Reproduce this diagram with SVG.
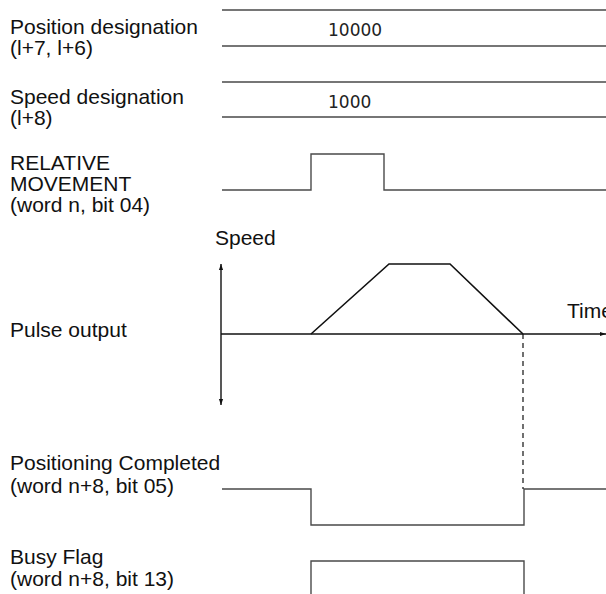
<svg xmlns="http://www.w3.org/2000/svg" width="606" height="594" viewBox="0 0 606 594">
<style>
.lbl{font-family:"Liberation Sans",Arial,sans-serif;font-size:21px;fill:#111}
.val{font-family:"DejaVu Sans",sans-serif;font-size:17px;fill:#222}
.sig{fill:none;stroke:#4a4a4a;stroke-width:1.4}
.ax{fill:none;stroke:#111;stroke-width:1.4}
.ramp{fill:none;stroke:#111;stroke-width:1.6}
.dash{fill:none;stroke:#111;stroke-width:1.2;stroke-dasharray:5 4}
</style>
<defs>
<marker id="ah" viewBox="0 0 10 10" refX="10" refY="5" markerWidth="6" markerHeight="6" orient="auto-start-reverse" markerUnits="userSpaceOnUse">
<path d="M0,1.5 L10,5 L0,8.5 Z" fill="#111"/>
</marker>
</defs>
<g id="labels">
<text class="lbl" x="10" y="34">Position designation</text>
<text class="lbl" x="10" y="55">(l+7, l+6)</text>
<text class="lbl" x="10" y="104">Speed designation</text>
<text class="lbl" x="10" y="125">(l+8)</text>
<text class="lbl" x="10" y="170">RELATIVE</text>
<text class="lbl" x="10" y="191">MOVEMENT</text>
<text class="lbl" x="10" y="212">(word n, bit 04)</text>
<text class="lbl" x="215" y="245">Speed</text>
<text class="lbl" x="10" y="337">Pulse output</text>
<text class="lbl" x="567" y="318">Time</text>
<text class="lbl" x="10" y="470">Positioning Completed</text>
<text class="lbl" x="10" y="493">(word n+8, bit 05)</text>
<text class="lbl" x="10" y="564">Busy Flag</text>
<text class="lbl" x="10" y="586">(word n+8, bit 13)</text>
</g>
<g id="position-designation">
<path class="sig" d="M222,10 H606 M222,46 H606"/>
<text class="val" x="328" y="36">10000</text>
</g>
<g id="speed-designation">
<path class="sig" d="M222,82 H606 M222,117 H606"/>
<text class="val" x="328" y="108">1000</text>
</g>
<g id="relative-movement">
<path class="sig" d="M222,190 H311 V154 H384 V190 H606"/>
</g>
<g id="pulse-output">
<path class="ax" d="M221,334 V264" marker-end="url(#ah)"/>
<path class="ax" d="M221,334 V405" marker-end="url(#ah)"/>
<path class="ax" d="M221,334 H606" marker-end="url(#ah)"/>
<path class="ramp" d="M311,334 L389,264 H450 L523,334"/>
</g>
<g id="positioning-completed">
<path class="sig" d="M222,489 H311 V525 H524 V489 H606"/>
</g>
<g id="busy-flag">
<path class="sig" d="M311,594 V561 H524 V594"/>
</g>
<g id="connectors">
<path class="dash" d="M523,334 V489"/>
</g>
</svg>
